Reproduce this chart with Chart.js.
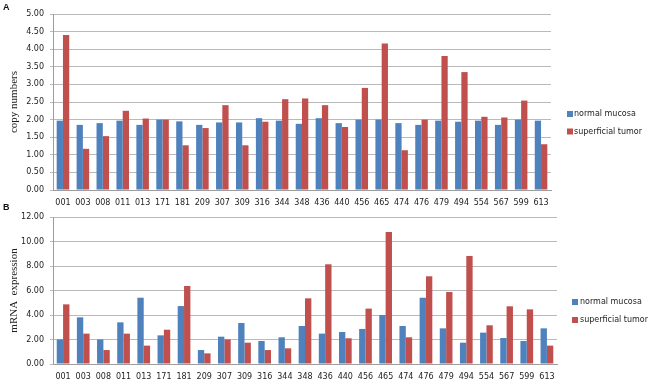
<!DOCTYPE html>
<html>
<head>
<meta charset="utf-8">
<script src="https://cdn.jsdelivr.net/npm/chart.js@4.4.1/dist/chart.umd.min.js"></script>
<style>
  body { margin: 0; background: #fff; width: 650px; height: 384px; overflow: hidden; position: relative; }
  canvas { position: absolute; left: 0; }
  .panel { position: absolute; left: 3px; z-index: 2; font: bold 9px "Liberation Sans", Arial, sans-serif; color: #111; line-height: 10px; }
</style>
</head>
<body>
<div class="panel" style="top:2px">A</div>
<canvas id="copy-chart" width="650" height="206" style="top:0"></canvas>
<div class="panel" style="top:202px">B</div>
<canvas id="mrna-chart" width="650" height="184" style="top:200px"></canvas>
<script>
// sample ids along the x axis
const samples = ["001", "003", "008", "011", "013", "171", "181", "209", "307", "309", "316", "344", "348",
  "436", "440", "456", "465", "474", "476", "479", "494", "554", "567", "599", "613"];
const seriesNames = ["normal mucosa", "superficial tumor"];

// panel A - copy numbers
const copyNormal = [1.97, 1.85, 1.90, 1.97, 1.85, 2.00, 1.95, 1.85, 1.92, 1.92, 2.04, 1.97, 1.88,
  2.04, 1.90, 2.00, 2.00, 1.90, 1.85, 1.97, 1.94, 1.97, 1.85, 2.00, 1.97];
const copyTumor = [4.40, 1.17, 1.53, 2.25, 2.03, 2.00, 1.27, 1.76, 2.41, 1.27, 1.94, 2.58, 2.60,
  2.41, 1.79, 2.90, 4.16, 1.13, 2.00, 3.81, 3.35, 2.08, 2.06, 2.54, 1.30];

// panel B - mRNA expression
const mrnaNormal = [2.01, 3.81, 2.01, 3.40, 5.41, 2.34, 4.73, 1.14, 2.23, 3.35, 1.88, 2.18, 3.10,
  2.48, 2.61, 2.86, 4.00, 3.10, 5.41, 2.91, 1.74, 2.56, 2.12, 1.88, 2.91];
const mrnaTumor = [4.87, 2.48, 1.14, 2.48, 1.50, 2.80, 6.37, 0.87, 2.01, 1.74, 1.14, 1.28, 5.36,
  8.14, 2.10, 4.52, 10.78, 2.18, 7.16, 5.88, 8.82, 3.16, 4.71, 4.46, 1.50];

const BLUE = "#4F81BD";
const RED = "#C0504D";
const SANS = '"DejaVu Sans", Verdana, sans-serif';

// small legend drawn to the right of the plot, Excel style
const sideLegend = {
  id: "sideLegend",
  afterDraw(chart, args, opts) {
    const ctx = chart.ctx;
    ctx.save();
    ctx.font = "8px " + SANS;
    ctx.textBaseline = "middle";
    chart.data.datasets.forEach((ds, i) => {
      const y = opts.y + i * opts.gap;
      ctx.fillStyle = ds.backgroundColor;
      ctx.fillRect(opts.x, y - 3, 6, 6);
      ctx.fillStyle = "#222";
      ctx.fillText(ds.label, opts.x + opts.textGap, y);
    });
    ctx.restore();
  }
};

function makeChart(id, normal, tumor, yMax, yStep, yTitle, pad, xHeight, legend) {
  new Chart(document.getElementById(id), {
    type: "bar",
    data: {
      labels: samples,
      datasets: [
        { label: seriesNames[0], data: normal, backgroundColor: BLUE },
        { label: seriesNames[1], data: tumor, backgroundColor: RED },
      ],
    },
    options: {
      responsive: false,
      animation: false,
      layout: { padding: pad },
      datasets: { bar: { barPercentage: 1, categoryPercentage: 0.63 } },
      plugins: {
        legend: { display: false },
        tooltip: { enabled: false },
        sideLegend: legend,
      },
      scales: {
        x: {
          grid: { display: false, drawTicks: false },
          border: { color: "#9d9d9d" },
          ticks: { autoSkip: false, maxRotation: 0, padding: 8, color: "#222", font: { family: SANS, size: 8 } },
          afterFit: (s) => { s.height = xHeight; },
        },
        y: {
          min: 0,
          max: yMax,
          grid: { color: "#bababa", tickLength: 3 },
          border: { color: "#9d9d9d" },
          ticks: {
            stepSize: yStep,
            padding: 6,
            color: "#222",
            font: { family: SANS, size: 8 },
            callback: (v) => v.toFixed(2),
          },
          title: {
            display: true,
            text: yTitle,
            color: "#222",
            padding: { top: 8, bottom: 0 },
            font: { family: '"Liberation Serif", "Times New Roman", serif', size: 11 },
          },
          afterFit: (s) => { s.width = 53; },
        },
      },
    },
    plugins: [sideLegend],
  });
}

makeChart("copy-chart", copyNormal, copyTumor, 5, 0.5, "copy numbers",
  { top: 14, right: 99, left: 0, bottom: 0 }, 16, { x: 567, y: 114, gap: 17.5, textGap: 7 });
makeChart("mrna-chart", mrnaNormal, mrnaTumor, 12, 2, "mRNA  expression",
  { top: 17, right: 93, left: 0, bottom: 0 }, 20, { x: 572, y: 102, gap: 18, textGap: 8 });
</script>
</body>
</html>
